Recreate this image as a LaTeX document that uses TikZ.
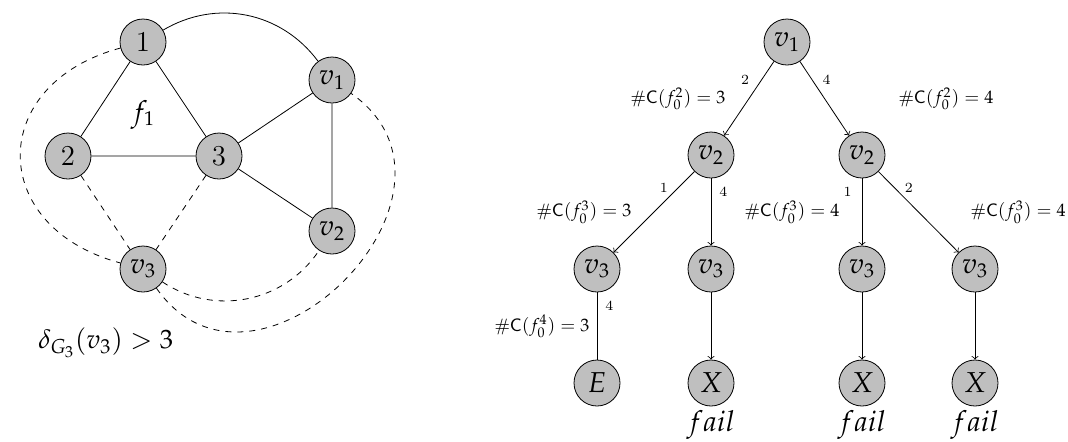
\documentclass[tikz,border=0pt]{standalone}
\usepackage{mathpazo}
\usetikzlibrary{positioning}

\tikzset{
  vtx/.style={circle, draw, fill=gray!50, minimum size=23pt, inner sep=0pt, font=\Large},
  elab/.style={font=\scriptsize, inner sep=1pt},
  cnt/.style={font=\small, inner sep=1pt},
}

\begin{document}
\begin{tikzpicture}[x=0.5pt,y=-0.5pt]
  \useasboundingbox (0,0) rectangle (1068,441);
  % the graph
  \node[vtx] (g1) at (143,42) {1};
  \node[vtx] (g2) at (68,156) {2};
  \node[vtx] (g3) at (219,156) {3};
  \node[vtx] (gv1) at (332,80) {$v_1$};
  \node[vtx] (gv2) at (332,231) {$v_2$};
  \node[vtx] (gv3) at (143,269) {$v_3$};
  \node[font=\Large] (face) at (143,115) {$f_1$};
  \node[font=\fontsize{13.3}{16}\selectfont, anchor=west, inner sep=0pt] (deg) at (38,343) {$\delta_{G_3}(v_3) > 3$};
  \draw (g1) -- (g2) (g1) -- (g3) (g2) -- (g3);
  \draw (g3) -- (gv1) (g3) -- (gv2) (gv1) -- (gv2);
  \draw (g1) to[bend left=42] (gv1);
  \draw[dashed] (g2) -- (gv3) (g3) -- (gv3);
  \draw[dashed] (g1) to[out=195,in=165,looseness=1.65] (gv3);
  \draw[dashed] (gv3) to[bend right=45] (gv2);
  \draw[dashed] (gv3) to[out=-55,in=-35,looseness=1.6] (gv1);

  % the search tree
  \node[vtx] (r) at (787,42) {$v_1$};
  \node[vtx] (b1) at (711,155) {$v_2$};
  \node[vtx] (b2) at (862,155) {$v_2$};
  \node[vtx] (c1) at (597,269) {$v_3$};
  \node[vtx] (c2) at (711,269) {$v_3$};
  \node[vtx] (c3) at (862,269) {$v_3$};
  \node[vtx] (c4) at (975,269) {$v_3$};
  \node[vtx] (d1) at (597,383) {$E$};
  \node[vtx] (d2) at (711,383) {$X$};
  \node[vtx] (d3) at (862,383) {$X$};
  \node[vtx] (d4) at (975,383) {$X$};
  \foreach \n in {d2,d3,d4}
    \node[font=\Large, inner sep=0pt, below=2pt of \n] {$fail$};
  \draw[->] (r) -- node[elab, pos=.25, left=5pt] {2} (b1);
  \draw[->] (r) -- node[elab, pos=.25, right=4pt] {4} (b2);
  \draw[->] (b1) -- node[elab, pos=.2, left=4pt] {1} (c1);
  \draw[->] (b1) -- node[elab, pos=.2, right=3pt] {4} (c2);
  \draw[->] (b2) -- node[elab, pos=.2, left=4pt] {1} (c3);
  \draw[->] (b2) -- node[elab, pos=.2, right=4pt] {2} (c4);
  \draw (c1) -- node[elab, pos=.2, right=3pt] {4} (d1);
  \draw[->] (c2) -- (d2);
  \draw[->] (c3) -- (d3);
  \draw[->] (c4) -- (d4);
  \node[cnt] (k1) at (678,99) {\textsf{\#C}$(f_0^2) = 3$};
  \node[cnt] (k2) at (946,99) {\textsf{\#C}$(f_0^2) = 4$};
  \node[cnt] (k3) at (584,212) {\textsf{\#C}$(f_0^3) = 3$};
  \node[cnt] (k4) at (792,212) {\textsf{\#C}$(f_0^3) = 4$};
  \node[cnt, anchor=east] (k5) at (1068,212) {\textsf{\#C}$(f_0^3) = 4$};
  \node[cnt] (k6) at (542,326) {\textsf{\#C}$(f_0^4) = 3$};
\end{tikzpicture}
\end{document}
